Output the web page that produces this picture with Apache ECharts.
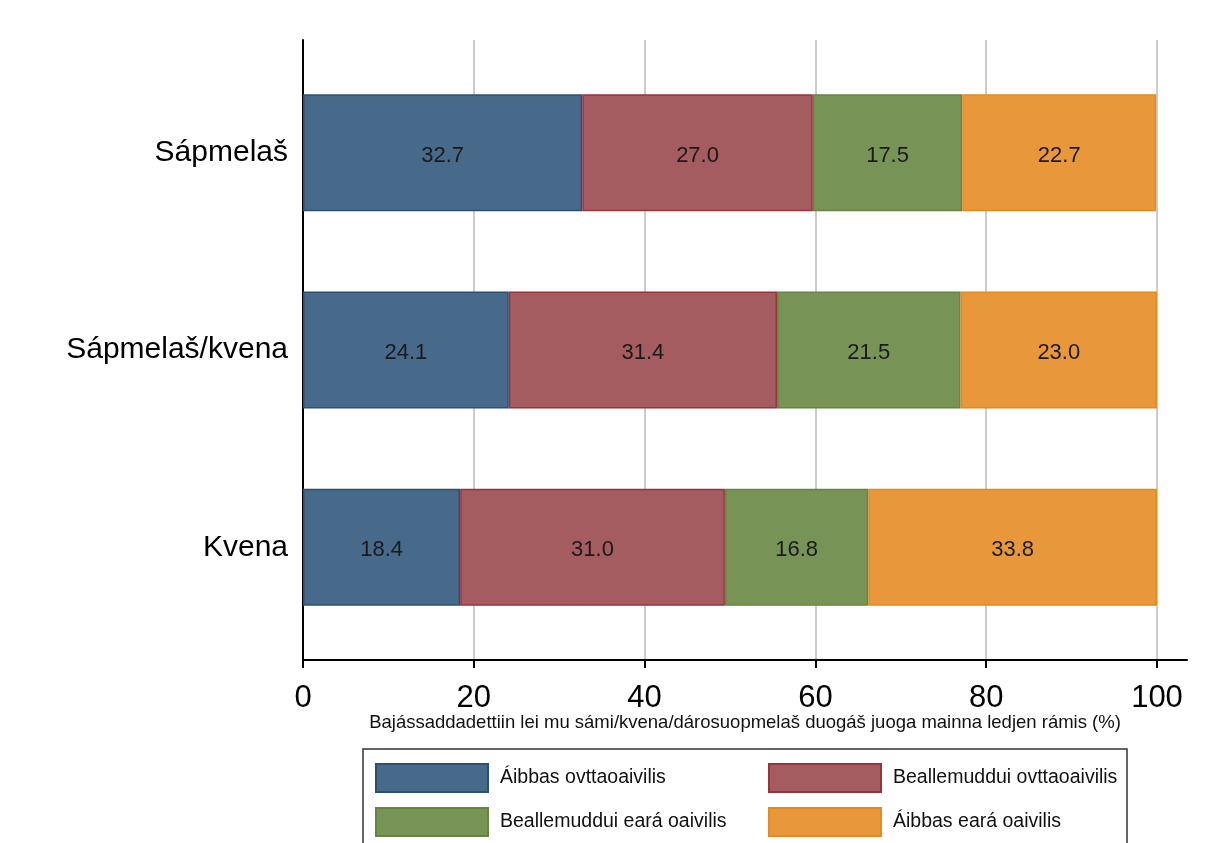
<!DOCTYPE html>
<html>
<head>
<meta charset="utf-8">
<script src="https://cdn.jsdelivr.net/npm/echarts@6/dist/echarts.min.js"></script>
<style>
html,body{margin:0;padding:0;background:#fff;}
#chart{width:1208px;height:843px;}
</style>
</head>
<body>
<div id="chart"></div>
<script>
const categories = ['Sápmelaš', 'Sápmelaš/kvena', 'Kvena'];
const seriesNames = ['Áibbas ovttaoaivilis', 'Beallemuddui ovttaoaivilis', 'Beallemuddui eará oaivilis', 'Áibbas eará oaivilis'];
const aibbasOvtta = [32.7, 24.1, 18.4];
const beallemudduiOvtta = [27.0, 31.4, 31.0];
const beallemudduiEara = [17.5, 21.5, 16.8];
const aibbasEara = [22.7, 23.0, 33.8];
const xTicks = [0, 20, 40, 60, 80, 100];
const xTitle = 'Bajássaddadettiin lei mu sámi/kvena/dárosuopmelaš duogáš juoga mainna ledjen rámis (%)';

const fills = ['#476a8a', '#a45c61', '#789356', '#e8973a'];
const borders = ['#2c5075', '#96343d', '#66853f', '#e48a1e'];
const values = [aibbasOvtta, beallemudduiOvtta, beallemudduiEara, aibbasEara];
const FONT = '"Liberation Sans", Arial, sans-serif';

const chart = echarts.init(document.getElementById('chart'), null, {renderer: 'canvas'});

const series = values.map((v, i) => ({
  name: seriesNames[i],
  type: 'bar',
  stack: 'total',
  xAxisIndex: 2,
  yAxisIndex: 2,
  barWidth: 117,
  data: v,
  itemStyle: {color: fills[i], borderColor: borders[i], borderWidth: 1.5},
  label: {
    show: true,
    position: 'inside',
    offset: [0, 3],
    formatter: p => p.value.toFixed(1),
    fontFamily: FONT,
    fontSize: 22,
    color: '#1a1a1a'
  },
  emphasis: {disabled: true}
}));

const legendCommon = {
  orient: 'vertical',
  top: 763,
  padding: 0,
  itemWidth: 112,
  itemHeight: 28,
  itemGap: 14,
  icon: 'rect',
  selectedMode: false,
  textStyle: {fontFamily: FONT, fontSize: 19.5, color: '#111', padding: [0, 0, 0, 7]}
};

chart.setOption({
  animation: false,
  backgroundColor: '#fff',
  grid: [
    {left: 303, top: 40, width: 854, height: 620},
    {left: 303, top: 40, width: 884, height: 620},
    {left: 303, top: 54, width: 854, height: 592}
  ],
  xAxis: [
    {
      gridIndex: 0, type: 'value', min: xTicks[0], max: xTicks[xTicks.length - 1], interval: 20,
      axisLine: {show: false},
      axisTick: {show: true, length: 8, lineStyle: {color: '#000', width: 2}},
      axisLabel: {fontFamily: FONT, fontSize: 31, color: '#000', margin: 23},
      splitLine: {show: true, lineStyle: {color: '#cccccc', width: 2}}
    },
    {
      gridIndex: 1, type: 'value', min: 0, max: 1,
      axisLine: {show: true, lineStyle: {color: '#000', width: 2}},
      axisTick: {show: false}, axisLabel: {show: false}, splitLine: {show: false},
      name: xTitle, nameLocation: 'middle', nameGap: 53,
      nameTextStyle: {fontFamily: FONT, fontSize: 18.5, color: '#111'}
    },
    {
      gridIndex: 2, type: 'value', min: 0, max: 100, show: false
    }
  ],
  yAxis: [
    {gridIndex: 0, type: 'value', min: 0, max: 1, show: false},
    {
      gridIndex: 1, type: 'value', min: 0, max: 1,
      axisLine: {show: true, lineStyle: {color: '#000', width: 2}},
      axisTick: {show: false}, axisLabel: {show: false}, splitLine: {show: false}
    },
    {
      gridIndex: 2, type: 'category', data: categories, inverse: true,
      axisLine: {show: false}, axisTick: {show: false}, splitLine: {show: false},
      axisLabel: {fontFamily: FONT, fontSize: 30, color: '#000', margin: 15}
    }
  ],
  legend: [
    Object.assign({left: 375, data: [seriesNames[0], seriesNames[2]]}, legendCommon),
    Object.assign({left: 768, data: [seriesNames[1], seriesNames[3]]}, legendCommon)
  ],
  graphic: [{
    type: 'rect',
    shape: {x: 363, y: 749, width: 764, height: 110},
    style: {fill: null, stroke: '#333', lineWidth: 1.5},
    silent: true
  }],
  series: series
});
</script>
</body>
</html>
